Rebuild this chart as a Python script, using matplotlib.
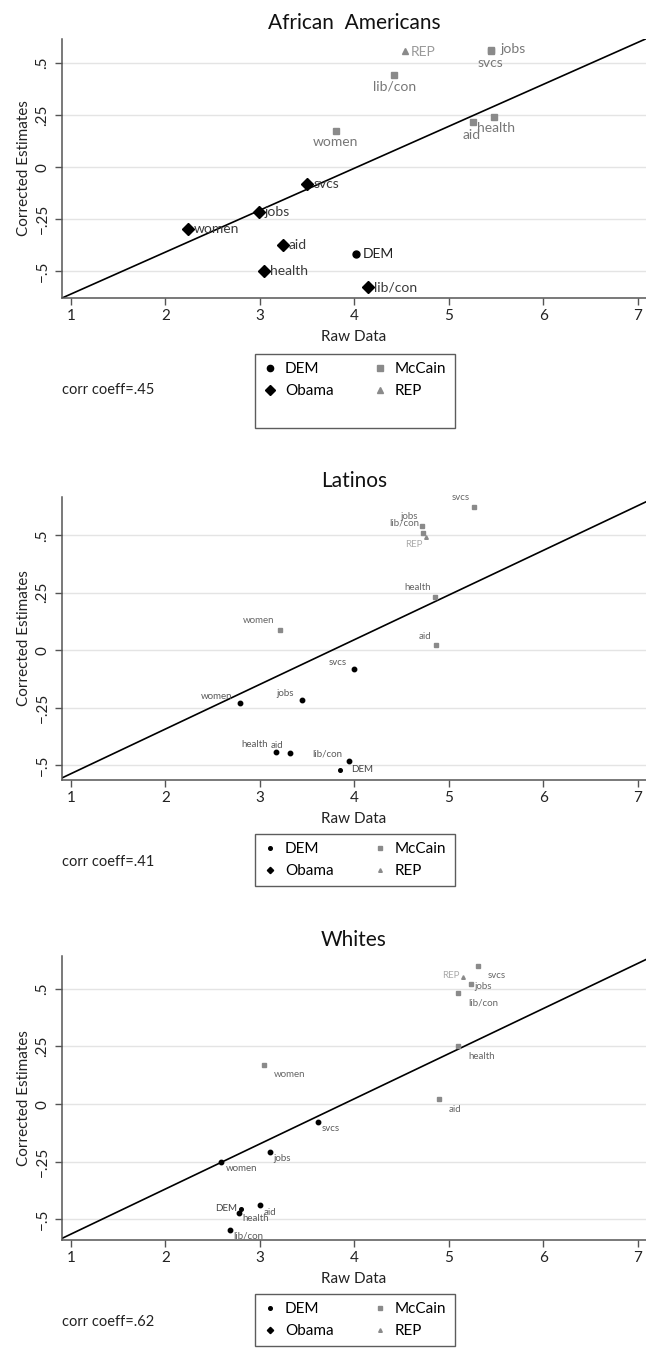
import matplotlib
matplotlib.use("Agg")
import matplotlib.pyplot as plt
from matplotlib.lines import Line2D

plt.rcParams["font.family"] = ["Lato", "DejaVu Sans"]

# ── Data ─────────────────────────────────────────────────────────────────────

issues = ["svcs", "jobs", "women", "aid", "health", "lib/con"]

# African Americans
aa_obama_x = [3.50, 2.99, 2.24, 3.24, 3.04, 4.14]
aa_obama_y = [-0.080, -0.214, -0.297, -0.373, -0.500, -0.576]
aa_mccain_x = [5.44, 5.44, 3.80, 5.25, 5.48, 4.42]
aa_mccain_y = [0.555, 0.559, 0.173, 0.214, 0.241, 0.440]
aa_dem = (4.02, -0.416)
aa_rep = (4.53, 0.556)
aa_fit = (-0.809, 0.201)          # intercept, slope
aa_corr = ".45"

# Latinos
la_obama_x = [3.99, 3.44, 2.79, 3.32, 3.17, 3.94]
la_obama_y = [-0.083, -0.215, -0.231, -0.449, -0.442, -0.484]
la_mccain_x = [5.26, 4.71, 3.21, 4.86, 4.85, 4.72]
la_mccain_y = [0.624, 0.542, 0.086, 0.022, 0.231, 0.510]
la_dem = (3.85, -0.520)
la_rep = (4.76, 0.491)
la_fit = (-0.732, 0.1945)
la_corr = ".41"

# Whites
wh_obama_x = [3.61, 3.11, 2.59, 3.00, 2.78, 2.68]
wh_obama_y = [-0.076, -0.209, -0.250, -0.438, -0.471, -0.547]
wh_mccain_x = [5.31, 5.23, 3.04, 4.89, 5.10, 5.10]
wh_mccain_y = [0.600, 0.522, 0.170, 0.020, 0.250, 0.480]
wh_dem = (2.80, -0.453)
wh_rep = (5.15, 0.549)
wh_fit = (-0.759, 0.1956)
wh_corr = ".62"

# ── Label offsets (pixels) per issue, same order as `issues` ─────────────────

aa_obama_off = [(6, 0, "left")] * 6
aa_mccain_off = [(0, -12, "center"), (10, 1, "left"), (0, -11, "center"),
                 (-1, -13, "center"), (2, -11, "center"), (0, -11, "center")]
aa_dem_off = (6, 0, "left")
aa_rep_off = (6, -1, "left")

la_obama_off = [(-16, 7, "center"), (-16, 6, "center"), (-24, 7, "center"),
                (-13, 8, "center"), (-21, 7, "center"), (-22, 7, "center")]
la_mccain_off = [(-13, 9, "center"), (-12, 9, "center"), (-21, 10, "center"),
                 (-11, 9, "center"), (-17, 10, "center"), (-18, 10, "center")]
la_dem_off = (22, 0, "center")
la_rep_off = (-12, -7, "center")

wh_obama_off = [(13, -7, "center"), (12, -6, "center"), (20, -7, "center"),
                (10, -7, "center"), (17, -6, "center"), (19, -6, "center")]
wh_mccain_off = [(18, -10, "center"), (12, -3, "center"), (26, -10, "center"),
                 (16, -10, "center"), (23, -10, "center"), (25, -10, "center")]
wh_dem_off = (-15, 0, "center")
wh_rep_off = (-12, 2, "center")

panels = [
    dict(title="African  Americans", obama=(aa_obama_x, aa_obama_y, aa_obama_off),
         mccain=(aa_mccain_x, aa_mccain_y, aa_mccain_off),
         dem=(aa_dem, aa_dem_off), rep=(aa_rep, aa_rep_off), fit=aa_fit, corr=aa_corr,
         box=(39, 298), ylim=(-0.627, 0.614), big=True,
         legend_top=354, corr_y=390),
    dict(title="Latinos", obama=(la_obama_x, la_obama_y, la_obama_off),
         mccain=(la_mccain_x, la_mccain_y, la_mccain_off),
         dem=(la_dem, la_dem_off), rep=(la_rep, la_rep_off), fit=la_fit, corr=la_corr,
         box=(497, 780), ylim=(-0.565, 0.667), big=False,
         legend_top=834, corr_y=862),
    dict(title="Whites", obama=(wh_obama_x, wh_obama_y, wh_obama_off),
         mccain=(wh_mccain_x, wh_mccain_y, wh_mccain_off),
         dem=(wh_dem, wh_dem_off), rep=(wh_rep, wh_rep_off), fit=wh_fit, corr=wh_corr,
         box=(956, 1240), ylim=(-0.589, 0.642), big=False,
         legend_top=1294, corr_y=1322),
]

# ── Plot ──────────────────────────────────────────────────────────────────────

W, H = 646, 1349
fig = plt.figure(figsize=(W / 100, H / 100), dpi=100)
fig.patch.set_facecolor("white")

GRAY = "#8a8a8a"
XMIN, XMAX = 0.905, 7.085

for p in panels:
    top, bot = p["box"]
    ax = fig.add_axes([62 / W, 1 - bot / H, (W - 62) / W, (bot - top) / H])
    big = p["big"]

    if big:
        ms_ob, ms_dem, ms_mc, ms_rep, fs = 6, 5, 4.5, 5, 10
        lab_ob, lab_mc, lab_rep, lab_dem = "#3a3a3a", "#777777", "#999999", "#222222"
    else:
        ms_ob, ms_dem, ms_mc, ms_rep, fs = 3.2, 2.6, 2.2, 2.6, 7
        lab_ob, lab_mc, lab_rep, lab_dem = "#5a5a5a", "#666666", "#aaaaaa", "#444444"

    # fitted line
    a, b = p["fit"]
    ax.plot([XMIN, XMAX], [a + b * XMIN, a + b * XMAX], color="black",
            linewidth=1.2, zorder=2)

    ox, oy, ooff = p["obama"]
    mx, my, moff = p["mccain"]
    (dx_, dy_), doff = p["dem"]
    (rx_, ry_), roff = p["rep"]

    ax.plot(ox, oy, linestyle="none", marker="D" if big else "o",
            markersize=ms_ob, color="black", zorder=3)
    ax.plot([dx_], [dy_], linestyle="none", marker="o", markersize=ms_dem,
            color="black", zorder=3)
    ax.plot(mx, my, linestyle="none", marker="s", markersize=ms_mc,
            color=GRAY, zorder=3)
    ax.plot([rx_], [ry_], linestyle="none", marker="^", markersize=ms_rep,
            color=GRAY, zorder=3)

    for lbl, x, y, (ddx, ddy, ha) in zip(issues, ox, oy, ooff):
        ax.annotate(lbl, (x, y), xytext=(ddx, ddy), textcoords="offset pixels",
                    ha=ha, va="center", fontsize=fs, color=lab_ob)
    for lbl, x, y, (ddx, ddy, ha) in zip(issues, mx, my, moff):
        ax.annotate(lbl, (x, y), xytext=(ddx, ddy), textcoords="offset pixels",
                    ha=ha, va="center", fontsize=fs, color=lab_mc)
    ax.annotate("DEM", (dx_, dy_), xytext=doff[:2], textcoords="offset pixels",
                ha=doff[2], va="center", fontsize=fs, color=lab_dem)
    ax.annotate("REP", (rx_, ry_), xytext=roff[:2], textcoords="offset pixels",
                ha=roff[2], va="center", fontsize=fs, color=lab_rep)

    ax.set_xlim(XMIN, XMAX)
    ax.set_ylim(*p["ylim"])
    ax.set_xticks(range(1, 8))
    ax.set_yticks([-0.5, -0.25, 0, 0.25, 0.5])
    ax.set_yticklabels(["\u2212.5", "\u2212.25", "0", ".25", ".5"],
                       rotation=90, va="center")
    ax.tick_params(axis="both", labelsize=11, color="#555555", length=5,
                   width=1, labelcolor="#222222")
    ax.tick_params(axis="x", pad=3)
    ax.tick_params(axis="y", pad=4)
    ax.grid(axis="y", color="#e4e4e4", linewidth=1.0)
    ax.set_axisbelow(True)
    for s in ("top", "right"):
        ax.spines[s].set_visible(False)
    for s in ("left", "bottom"):
        ax.spines[s].set_color("#555555")
        ax.spines[s].set_linewidth(1.1)

    ax.set_title(p["title"], fontsize=15, pad=7, color="#111111")
    ax.set_xlabel("Raw Data", fontsize=11, labelpad=5, color="#222222")
    ax.set_ylabel("Corrected Estimates", fontsize=11, labelpad=3, color="#222222")

    # legend
    handles = [
        Line2D([], [], linestyle="none", marker="o", color="black",
               markersize=4.5 if big else 2.6),
        Line2D([], [], linestyle="none", marker="D", color="black",
               markersize=5 if big else 3.2),
        Line2D([], [], linestyle="none", marker="s", color=GRAY,
               markersize=4.5 if big else 2.2),
        Line2D([], [], linestyle="none", marker="^", color=GRAY,
               markersize=4.5 if big else 2.6),
    ]
    names = ["DEM", "Obama", "McCain", "REP"]
    if big:
        blank = Line2D([], [], linestyle="none")
        handles = handles[:2] + [blank] + handles[2:] + [blank]
        names = names[:2] + [" "] + names[2:] + [" "]
    leg = fig.legend(handles, names, ncol=2, loc="upper center",
                     bbox_to_anchor=(355 / W, 1 - p["legend_top"] / H),
                     bbox_transform=fig.transFigure, frameon=True,
                     fancybox=False, fontsize=11, handlelength=0.8,
                     handletextpad=0.6, columnspacing=2.6, labelspacing=0.5,
                     borderpad=0.55, borderaxespad=0)
    leg.get_frame().set_edgecolor("#333333")
    leg.get_frame().set_linewidth(1.0)

    fig.text(62 / W, 1 - p["corr_y"] / H, "corr coeff=" + p["corr"],
             fontsize=10.5, va="center", ha="left", color="#222222")

plt.savefig("out.png", dpi=100, facecolor=fig.get_facecolor())
plt.close()
